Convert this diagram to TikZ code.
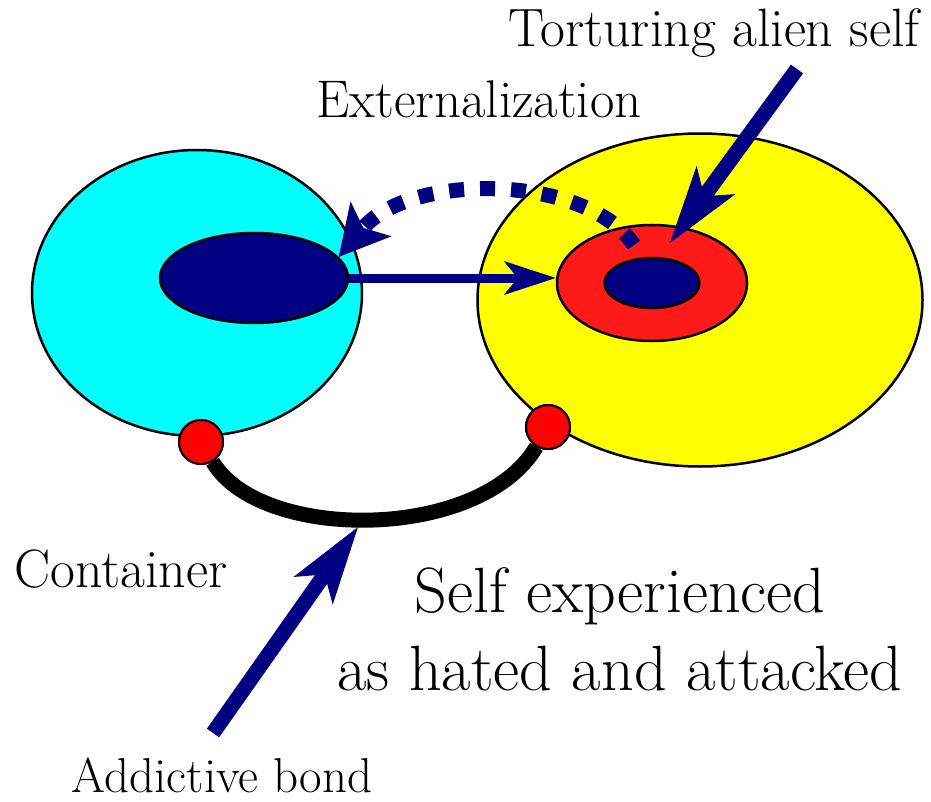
\documentclass[tikz,border=0pt]{standalone}
\usetikzlibrary{shapes.geometric, arrows.meta, positioning, calc}
\definecolor{navyblue}{RGB}{0,0,128}
\definecolor{ringred}{RGB}{255,26,26}
\definecolor{dotred}{RGB}{255,0,0}
\definecolor{aqua}{RGB}{0,255,255}
\definecolor{lemon}{RGB}{255,255,0}

\begin{document}
\begin{tikzpicture}[
    x=1pt, y=-1pt,
    blob/.style={ellipse, draw, line width=2.5pt, inner sep=0pt},
    joint/.style={circle, draw, line width=2pt, fill=dotred, minimum size=44pt, inner sep=0pt},
    txt/.style={anchor=base, inner sep=0pt, font=\fontsize{54}{62}\selectfont},
    bigtxt/.style={anchor=base, inner sep=0pt, font=\fontsize{64}{72}\selectfont},
    fatarrow/.style={navyblue, line width=15pt, -{Stealth[length=78pt, width=48pt, inset=20pt, line width=0pt]}}
]
\useasboundingbox (0,0) rectangle (931,802);

% Ellipses
\node (container) [blob, fill=aqua, minimum width=330pt, minimum height=286pt] at (197,293) {};
\node (host) [blob, fill=lemon, minimum width=445pt, minimum height=333pt] at (700,300) {};
\node (self) [blob, fill=navyblue, minimum width=188pt, minimum height=90pt] at (254,278) {};
\node (alien) [blob, fill=ringred, minimum width=190pt, minimum height=116pt] at (652,283) {};
\node (core) [blob, fill=navyblue, minimum width=95pt, minimum height=50pt] at (alien) {};

% Free ends
\coordinate (extstart) at (634,245);
\coordinate (tortail) at (797,69);
\coordinate (tortip) at (670,243);
\coordinate (bondtail) at (213,733);
\coordinate (bondtip) at (358,527);

% Bond
\node (leftjoint) [joint] at (201,442) {};
\node (rightjoint) [joint] at (548,427) {};
\draw [line width=15pt] (leftjoint) .. controls (260,542) and (480,542) .. (rightjoint);
\node [joint] at (leftjoint) {};
\node [joint] at (rightjoint) {};

% Arrows
\draw [navyblue, line width=9pt, -{Stealth[length=52pt, width=34pt, inset=14pt, line width=0pt]}]
    (self.east) -- (self.east -| alien.west);
\draw [navyblue, line width=15pt, dash pattern=on 15pt off 16pt,
    -{Stealth[length=50pt, width=54pt, inset=12pt, line width=0pt]}]
    (extstart) .. controls (585,173) and (410,173) .. (self.14);
\draw [fatarrow] (tortail) -- (tortip);
\draw [fatarrow] (bondtail) -- (bondtip);

% Labels
\node [txt] at (714,47) {Torturing alien self};
\node [txt, font=\fontsize{53}{60}\selectfont] at (479,118) {Externalization};
\node [txt] at (121,587) {Container};
\node [bigtxt] at (620,612) {Self experienced};
\node [bigtxt] at (620,690) {as hated and attacked};
\node [txt, font=\fontsize{49}{56}\selectfont] at (222,792) {Addictive bond};

\end{tikzpicture}
\end{document}
